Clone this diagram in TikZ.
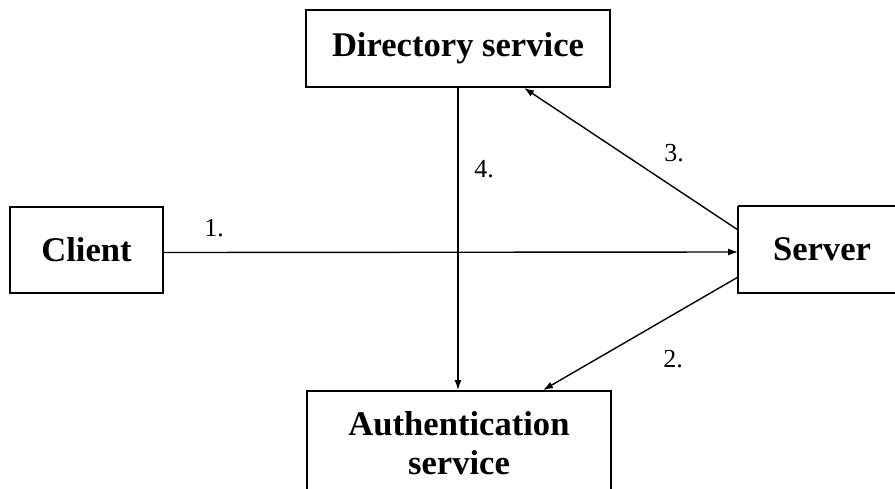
\documentclass[tikz,border=0pt]{standalone}
\usepackage{fontspec}
\setmainfont{Liberation Serif}
\usetikzlibrary{arrows.meta}
\begin{document}
\begin{tikzpicture}[x=1pt,y=-1pt,
  box/.style={draw,line width=1.8pt,inner sep=0pt,align=center,
    font=\fontsize{34.6}{39}\selectfont\bfseries},
  link/.style={line width=1.4pt,-{Latex[length=10pt,width=7pt]}},
  num/.style={inner sep=0pt,font=\fontsize{26}{30}\selectfont}]
  \useasboundingbox (0,0) rectangle (895,488);
  \clip (0,0) rectangle (895,488);

  % service boxes
  \node[box,minimum width=304pt,minimum height=77pt] (dir) at (458,48.5) {Directory service};
  \node[box,minimum width=153pt,minimum height=86pt] (client) at (86.5,250) {Client};
  \node[box,draw=none,minimum width=166pt,minimum height=85pt] (server) at (822,249.5) {Server};
  \draw[line width=1.8pt] (server.north west) -- (960,0 |- server.north)
    (server.north west) -- (server.south west) -- (960,0 |- server.south);
  \node[box,minimum width=304pt,minimum height=104pt] (auth) at (459,443) {Authentication\\service};

  % message flow
  \draw[link] ([yshift=-2.5pt]client.east) -- ([yshift=-2.5pt]server.west);
  \draw[link] ([yshift=-27.5pt]server.west) -- ([xshift=84pt]auth.north);
  \draw[link] ([yshift=19.5pt]server.west) -- ([xshift=66pt]dir.south);
  \draw[link] (dir.south) -- (dir.south |- auth.north);

  % step numbers
  \node[num] (n1) at (214,228) {1.};
  \node[num] (n2) at (673,359) {2.};
  \node[num] (n3) at (674,153) {3.};
  \node[num] (n4) at (484,169) {4.};
\end{tikzpicture}
\end{document}
